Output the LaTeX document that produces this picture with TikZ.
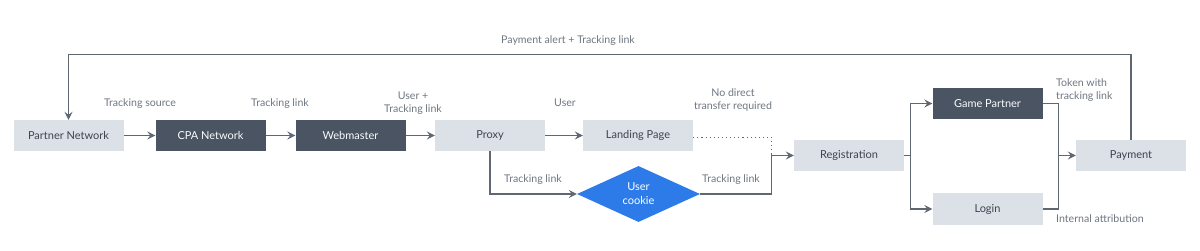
\documentclass[tikz,border=0pt]{standalone}
\usepackage{fontspec}
\setmainfont{Lato}
\definecolor{boxlight}{HTML}{DCE1E7}
\definecolor{boxdark}{HTML}{4A5462}
\definecolor{cookieblue}{HTML}{2D7BE8}
\definecolor{linegray}{HTML}{5E6772}
\definecolor{labelgray}{HTML}{6E7681}
\definecolor{textdark}{HTML}{3C4450}
\usetikzlibrary{arrows.meta,shapes.geometric}

\begin{document}
\begin{tikzpicture}[x=1pt, y=-1pt,
    lightbox/.style={rectangle, fill=boxlight, minimum width=110pt, minimum height=31pt, inner sep=0pt, text=textdark, font=\fontsize{11}{13}\selectfont},
    darkbox/.style={lightbox, fill=boxdark, text=white!90!boxlight},
    lbl/.style={text=labelgray, font=\fontsize{10.6}{13}\selectfont, inner sep=0pt, align=center},
    line/.style={draw=linegray, line width=1.3pt},
    flow/.style={line, -{Stealth[length=8pt, width=8pt, inset=3pt]}},
    dotline/.style={draw=linegray, line width=1.1pt, dash pattern=on 1.1pt off 3pt}]
    \useasboundingbox (0,0) rectangle (1200,251);
    \node[lightbox] (partner) at (68.5,135.5) {Partner Network};
    \node[darkbox] (cpa) at (210.5,135.5) {CPA Network};
    \node[darkbox] (webmaster) at (350.5,135.5) {Webmaster};
    \node[lightbox] (proxy) at (490,135.5) {Proxy};
    \node[lightbox] (landing) at (638,135.5) {Landing Page};
    \node[diamond, fill=cookieblue, text=white, minimum width=123pt, minimum height=56pt, inner sep=0pt, align=center, font=\fontsize{11}{14}\selectfont] (cookie) at (638.5,194) {User\\cookie};
    \node[lightbox] (registration) at (849,155.5) {Registration};
    \node[darkbox] (game) at (987.5,103.5) {Game Partner};
    \node[lightbox] (login) at (987.5,209) {Login};
    \node[lightbox] (payment) at (1131,155.5) {Payment};
    % labels
    \node[lbl] (lsource) at (140,104) {Tracking source};
    \node[lbl] (llink) at (280,104) {Tracking link};
    \node[lbl] (luser) at (413,103.5) {User +\\Tracking link};
    \node[lbl] (luser2) at (565,103) {User};
    \node[lbl] (ldirect) at (733,100) {No direct\\transfer required};
    \node[lbl] (lproxy) at (533,180) {Tracking link};
    \node[lbl] (lcookie) at (731,180) {Tracking link};
    \node[lbl, align=left, anchor=west] (ltoken) at (1056,90) {Token with\\tracking link};
    \node[lbl, anchor=west] (lintern) at (1056,219) {Internal attribution};
    \node[lbl] (lalert) at (568,41) {Payment alert + Tracking link};
    % helper points
    \coordinate (loop) at (568,54.5);
    \coordinate (join) at (771.5,155.5);
    \coordinate (split) at (910.5,155.5);
    \coordinate (merge) at (1058.5,155.5);
    % connectors
    \draw[flow] (partner) -- (cpa);
    \draw[flow] (cpa) -- (webmaster);
    \draw[flow] (webmaster) -- (proxy);
    \draw[flow] (proxy) -- (landing);
    \draw[flow] (payment.north) |- (loop) -| (partner.north);
    \draw[flow] (proxy.south) |- (cookie.west);
    \draw[dotline] ([yshift=-2pt]landing.east) -| (join);
    \draw[flow] (cookie.east) -| (join) -- (registration.west);
    \draw[flow] (registration.east) -- (split) |- (game.west);
    \draw[flow] (split) |- (login.west);
    \draw[line] (game.east) -| (merge);
    \draw[line] (login.east) -| (merge);
    \draw[flow] (merge) -- (payment.west);
\end{tikzpicture}
\end{document}
